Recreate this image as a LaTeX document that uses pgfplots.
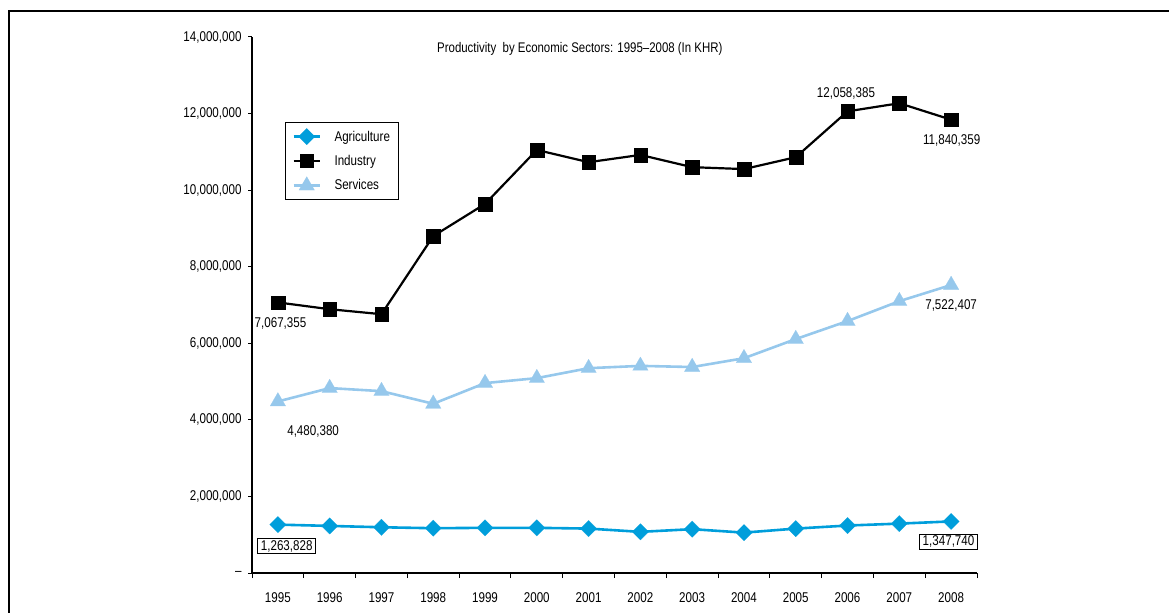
\documentclass[border=0pt]{standalone}
\usepackage{pgfplots}
\pgfplotsset{compat=1.18}
\usepackage{fontspec}
\setmainfont{Liberation Sans}[FakeStretch=0.82]

\definecolor{agri}{RGB}{0,158,219}
\definecolor{serv}{RGB}{150,200,236}

\begin{document}
\begin{tikzpicture}[x=1bp,y=1bp]
\path[use as bounding box] (0,0) rectangle (1169,-613);
% outer frame (only top and left edges visible)
\draw[line width=1.4bp] (9,-620) -- (9,-11) -- (1175,-11);

\begin{axis}[
  at={(252bp,-573bp)}, anchor=south west,
  scale only axis,
  width=725bp, height=536bp,
  xmin=1994.5, xmax=2008.5,
  ymin=0, ymax=14000000,
  axis lines=left,
  axis line style={-, line width=1.1bp},
  tick align=outside,
  tick style={line width=1bp, black},
  major tick length=4bp,
  minor tick length=5bp,
  xtick={1995,...,2008},
  xticklabels={1995,1996,1997,1998,1999,2000,2001,2002,2003,2004,2005,2006,2007,2008},
  major x tick style={draw=none},
  minor xtick={1994.5,1995.5,...,2008.5},
  ytick={0,2000000,...,14000000},
  yticklabels={{--},{2,000,000},{4,000,000},{6,000,000},{8,000,000},{10,000,000},{12,000,000},{14,000,000}},
  scaled y ticks=false,
  tick label style={font=\fontsize{14.2}{14}\selectfont},
  xticklabel style={yshift=-12bp},
  yticklabel style={xshift=-3bp},
  clip=false,
  legend style={at={(rel axis cs:0.0455,0.8414)}, anchor=north west,
    draw=black, line width=0.9bp, font=\fontsize{14.2}{14}\selectfont,
    inner xsep=7bp, inner ysep=6bp, row sep=8.5bp,
    nodes={inner sep=1.5bp},
    /tikz/every odd column/.append style={column sep=12bp}},
  legend cell align=left,
  legend image code/.code={
    \draw[mark repeat=2,mark phase=2] plot coordinates {(0bp,0bp) (13bp,0bp) (26bp,0bp)};},
]
\addplot[agri, line width=2.6bp, mark=square*, mark size=5.8bp,
  mark options={rotate=45, fill=agri, draw=agri, line width=0.1bp}]
  coordinates {(1995,1263828) (1996,1230000) (1997,1195000) (1998,1170000)
  (1999,1180000) (2000,1180000) (2001,1160000) (2002,1075000) (2003,1145000)
  (2004,1055000) (2005,1160000) (2006,1240000) (2007,1290000) (2008,1347740)};
\addlegendentry{Agriculture}
\addplot[black, line width=2.2bp, mark=square*, mark size=6.8bp,
  mark options={fill=black, line width=0.1bp}]
  coordinates {(1995,7067355) (1996,6890000) (1997,6760000) (1998,8800000)
  (1999,9640000) (2000,11050000) (2001,10730000) (2002,10920000) (2003,10600000)
  (2004,10550000) (2005,10860000) (2006,12058385) (2007,12270000) (2008,11840359)};
\addlegendentry{Industry}
\addplot[serv, line width=2.6bp, mark=triangle*, mark size=9bp,
  mark options={fill=serv, draw=serv, line width=0.1bp}]
  coordinates {(1995,4480380) (1996,4830000) (1997,4750000) (1998,4420000)
  (1999,4960000) (2000,5090000) (2001,5350000) (2002,5410000) (2003,5380000)
  (2004,5610000) (2005,6110000) (2006,6580000) (2007,7100000) (2008,7522407)};
\addlegendentry{Services}

\node[font=\fontsize{14}{14}\selectfont] at (axis cs:2000.83,13700000) {Productivity\ \ by Economic Sectors: 1995--2008 (In KHR)};
\begin{scope}[every node/.style={font=\fontsize{14.2}{14}\selectfont}]
\node at (axis cs:1995.05,6530000) {7,067,355};
\node at (axis cs:1995.68,3710000) {4,480,380};
\node[draw=black, line width=0.9bp, inner xsep=3bp, inner ysep=1.8bp] at (axis cs:1995.17,700000) {1,263,828};
\node at (axis cs:2005.97,12520000) {12,058,385};
\node at (axis cs:2008.01,11310000) {11,840,359};
\node at (axis cs:2008.0,7000000) {7,522,407};
\node[draw=black, line width=0.9bp, inner xsep=3bp, inner ysep=1.8bp] at (axis cs:2007.95,820000) {1,347,740};
\end{scope}
\end{axis}
\end{tikzpicture}
\end{document}
